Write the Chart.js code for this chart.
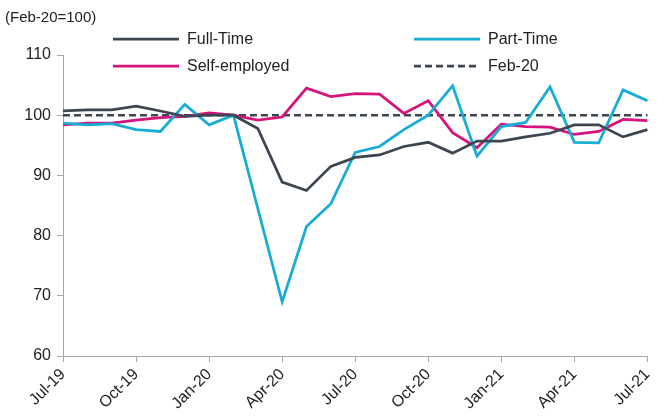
<!DOCTYPE html>
<html>
<head>
<meta charset="utf-8">
<script src="https://cdn.jsdelivr.net/npm/chart.js@4/dist/chart.umd.min.js"></script>
<style>
  html, body { margin: 0; padding: 0; background: #fff; }
  #wrap { width: 664px; height: 419px; }
</style>
</head>
<body>
<div id="wrap"><canvas id="chart"></canvas></div>
<script>
(function() {
    'use strict';

    var months = ['Jul-19','Aug-19','Sep-19','Oct-19','Nov-19','Dec-19','Jan-20','Feb-20','Mar-20','Apr-20','May-20','Jun-20',
                  'Jul-20','Aug-20','Sep-20','Oct-20','Nov-20','Dec-20','Jan-21','Feb-21','Mar-21','Apr-21','May-21','Jun-21','Jul-21'];
    var fullTime     = [100.7,100.9,100.9,101.5,100.7,99.8,100.0,100.0,97.8,88.9,87.5,91.5,93.0,93.4,94.8,95.5,93.7,95.7,95.7,96.4,97.0,98.4,98.4,96.4,97.6];
    var partTime     = [98.7,98.4,98.6,97.6,97.3,101.8,98.4,100.0,84.5,69.0,81.5,85.3,93.8,94.8,97.6,100.0,104.9,93.2,98.1,98.8,104.7,95.5,95.4,104.2,102.4];
    var selfEmployed = [98.4,98.7,98.7,99.2,99.6,99.8,100.4,100.0,99.2,99.7,104.5,103.1,103.6,103.5,100.3,102.4,97.1,94.6,98.5,98.1,98.0,96.8,97.3,99.3,99.1];
    var feb20        = [100,100,100,100,100,100,100,100,100,100,100,100,100,100,100,100,100,100,100,100,100,100,100,100,100];

    var DARK = '#3d4650';
    var CYAN = '#17acd6';
    var MAGENTA = '#d4137b';
    var FONT = '"Liberation Sans", Arial, sans-serif';

    // legend drawn as a 2x2 grid, plus the unit note top left
    var legendGrid = {
        id: 'legendGrid',
        afterDraw: function(chart) {
            var c = chart.ctx;
            var spots = [[113, 39], [414, 39], [113, 66], [414, 66]];
            c.save();
            c.font = '16px ' + FONT;
            c.textBaseline = 'middle';
            chart.data.datasets.forEach(function(ds, k) {
                var x = spots[k][0], y = spots[k][1];
                c.strokeStyle = ds.borderColor;
                c.lineWidth = 2.75;
                c.setLineDash(ds.borderDash || []);
                c.beginPath();
                c.moveTo(x, y);
                c.lineTo(x + 66, y);
                c.stroke();
                c.setLineDash([]);
                c.fillStyle = '#222';
                c.fillText(ds.label, x + 74, y + 1);
            });
            c.font = '15px ' + FONT;
            c.fillText('(Feb-20=100)', 5, 18);
            c.restore();
        }
    };

    var ctx = document.getElementById('chart');
    new Chart(ctx, {
        type: 'line',
        data: {
            labels: months,
            datasets: [
                { label: 'Full-Time', data: fullTime, borderColor: DARK, borderWidth: 2.75, pointRadius: 0, tension: 0 },
                { label: 'Part-Time', data: partTime, borderColor: CYAN, borderWidth: 2.75, pointRadius: 0, tension: 0 },
                { label: 'Self-employed', data: selfEmployed, borderColor: MAGENTA, borderWidth: 2.75, pointRadius: 0, tension: 0 },
                { label: 'Feb-20', data: feb20, borderColor: DARK, borderWidth: 2.5, borderDash: [7, 4], pointRadius: 0, tension: 0 }
            ]
        },
        options: {
            responsive: true,
            maintainAspectRatio: false,
            animation: false,
            layout: { padding: { top: 55, right: 10, left: 0, bottom: 0 } },
            plugins: {
                legend: { display: false },
                tooltip: { enabled: false }
            },
            scales: {
                x: {
                    afterFit: function(s) { s.height = 63; },
                    border: { display: true, color: '#a6a6a6', width: 1 },
                    grid: {
                        drawOnChartArea: false,
                        drawTicks: true,
                        tickLength: 6,
                        tickColor: function(c) { return c.index % 3 === 0 ? '#a6a6a6' : 'rgba(0,0,0,0)'; }
                    },
                    ticks: {
                        autoSkip: false,
                        minRotation: 45,
                        maxRotation: 45,
                        padding: 3,
                        color: '#222',
                        font: { family: FONT, size: 16 },
                        callback: function(v, i) { return i % 3 === 0 ? months[i] : ''; }
                    }
                },
                y: {
                    min: 60,
                    max: 110,
                    afterFit: function(s) { s.width = 63; },
                    border: { display: true, color: '#a6a6a6', width: 1 },
                    grid: { drawOnChartArea: false, drawTicks: true, tickLength: 6, tickColor: '#a6a6a6' },
                    ticks: {
                        stepSize: 10,
                        padding: 6,
                        color: '#222',
                        font: { family: FONT, size: 16 }
                    }
                }
            }
        },
        plugins: [legendGrid]
    });
})();
</script>
</body>
</html>
